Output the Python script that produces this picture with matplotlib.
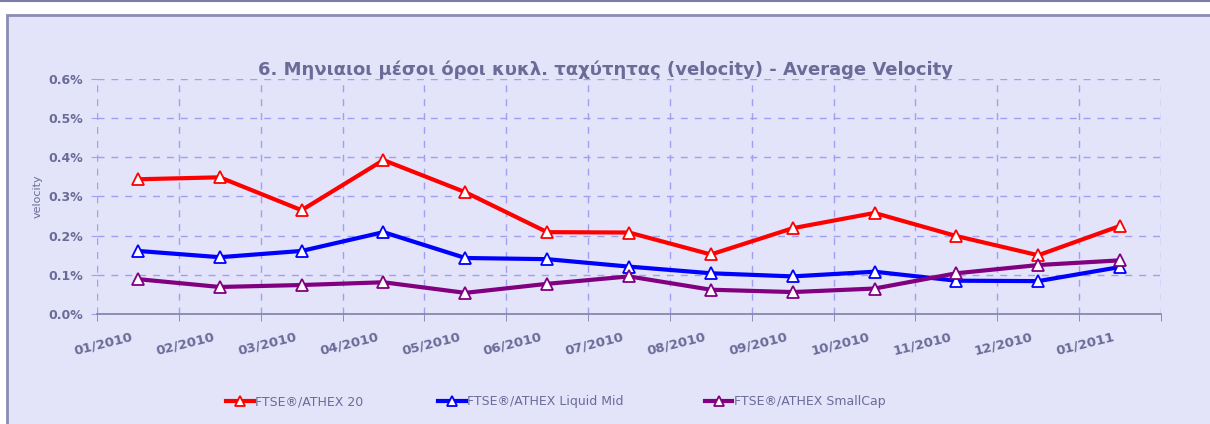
import matplotlib
matplotlib.use("Agg")
import matplotlib.pyplot as plt
from matplotlib.patches import Rectangle
from matplotlib.lines import Line2D
from matplotlib.ticker import FuncFormatter, MultipleLocator
import matplotlib.transforms as mtransforms
import numpy as np

# monthly average velocity (%)
months = ["01/2010", "02/2010", "03/2010", "04/2010", "05/2010", "06/2010", "07/2010",
          "08/2010", "09/2010", "10/2010", "11/2010", "12/2010", "01/2011"]
ftse20 = [0.344, 0.349, 0.265, 0.393, 0.311, 0.209, 0.208, 0.152, 0.219, 0.258, 0.199, 0.150, 0.225]
liquid_mid = [0.161, 0.145, 0.161, 0.209, 0.143, 0.140, 0.121, 0.104, 0.096, 0.108, 0.085, 0.084, 0.120]
smallcap = [0.089, 0.069, 0.074, 0.081, 0.054, 0.077, 0.096, 0.062, 0.056, 0.065, 0.104, 0.125, 0.137]

series_names = ["FTSE®/ATHEX 20", "FTSE®/ATHEX Liquid Mid", "FTSE®/ATHEX SmallCap"]
series_colors = ["#FF0000", "#0000FF", "#800080"]

text_col = "#6B6B98"
bg_col = "#E3E3FA"
grid_col = "#A0A0F2"

W, H = 1210, 424
fig = plt.figure(figsize=(W / 100, H / 100), dpi=100)
fig.patch.set_facecolor("white")

# panel background + top rule
fig.patches.append(Rectangle((7 / W, -0.01), 1.0, (H - 15) / H + 0.01, transform=fig.transFigure,
                             facecolor=bg_col, edgecolor="#8C8CB4", linewidth=2, zorder=-10))
fig.lines.append(Line2D([0, 1], [1 - 1 / H, 1 - 1 / H], transform=fig.transFigure,
                        color="#7C7CA8", linewidth=1.5, zorder=-10))

ax = fig.add_axes([97 / W, 1 - 314 / H, (1161 - 97) / W, (314 - 79) / H])
ax.set_facecolor("none")
ax.set_zorder(5)

x = np.arange(len(months))
for vals, name, col in zip([ftse20, liquid_mid, smallcap], series_names, series_colors):
    ax.plot(x, vals, color=col, lw=3, marker="^", markersize=8, markerfacecolor="white",
            markeredgecolor=col, markeredgewidth=1.3, label=name, zorder=3)

ax.set_xlim(-0.5, len(months) - 0.5)
ax.set_ylim(0, 0.6)
ax.yaxis.set_major_locator(MultipleLocator(0.1))
ax.yaxis.set_major_formatter(FuncFormatter(lambda v, p: f"{v:.1f}%"))

ax.set_xticks(x)
ax.set_xticklabels(months, rotation=14, ha="right", rotation_mode="anchor")
ax.set_xticks(np.arange(-0.5, len(months)), minor=True)
ax.tick_params(axis="x", which="major", length=0, pad=12, labelsize=9.5, labelcolor=text_col)
ax.tick_params(axis="x", which="minor", length=5, color="#8080A8", direction="out")
ax.tick_params(axis="y", length=4, color=grid_col, labelsize=9, labelcolor=text_col, pad=6)
shift = mtransforms.ScaledTranslation(-5 / 72, 0, fig.dpi_scale_trans)
for lab in ax.get_xticklabels():
    lab.set_transform(lab.get_transform() + shift)
for lab in ax.get_xticklabels() + ax.get_yticklabels():
    lab.set_fontweight("bold")

ax.grid(True, which="minor", axis="x", color=grid_col, linestyle=(0, (5, 5)), lw=1)
ax.grid(True, which="major", axis="y", color=grid_col, linestyle=(0, (5, 5)), lw=1)
for s in ["top", "right", "left"]:
    ax.spines[s].set_visible(False)
ax.spines["bottom"].set_color("#8080A8")
ax.spines["bottom"].set_linewidth(1.2)

ax.set_ylabel("velocity", color=text_col, fontsize=8, labelpad=4)

fig.text(606 / W, 1 - 70 / H, "6. Μηνιαιοι μέσοι όροι κυκλ. ταχύτητας (velocity) - Average Velocity",
         ha="center", va="center", fontsize=13, fontweight="bold", color=text_col)

# legend entries along the bottom
leg_x = [226, 438, 705]
handles = ax.get_lines()
for h, lx in zip(handles, leg_x):
    lg = fig.legend([h], [h.get_label()], loc="center left", bbox_to_anchor=(lx / W, 1 - 402 / H),
                    frameon=False, handlelength=2.2, handletextpad=0.1, fontsize=9,
                    borderaxespad=0, borderpad=0, markerscale=0.9)
    for t in lg.get_texts():
        t.set_color(text_col)

fig.savefig("out.png", dpi=100)
